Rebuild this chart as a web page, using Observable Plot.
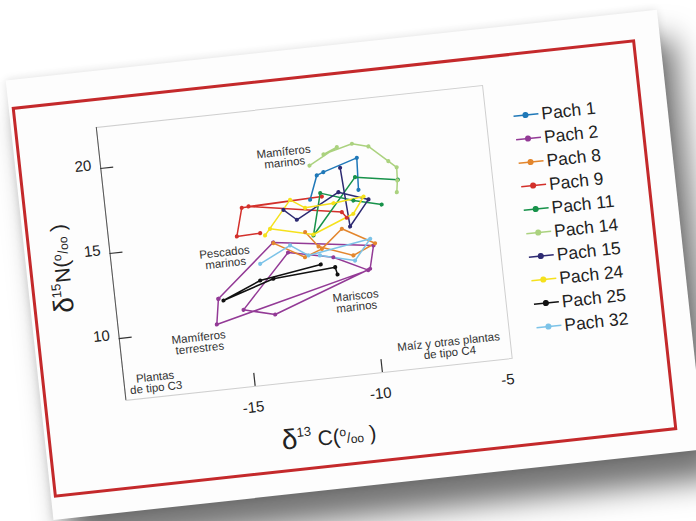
<!DOCTYPE html>
<html>
<head>
<meta charset="utf-8">
<script src="https://cdn.jsdelivr.net/npm/d3@7"></script>
<script src="https://cdn.jsdelivr.net/npm/@observablehq/plot@0.6"></script>
<style>
  html, body { margin: 0; padding: 0; background: #ffffff; width: 696px; height: 521px; overflow: hidden; }
  #stage { position: absolute; left: 31.25px; top: 72px; width: 627px; height: 393px;
           transform: rotate(-6.2deg); transform-origin: 50% 50%; font-family: "Liberation Sans", Arial, sans-serif; }
  #paper { position: absolute; left: -3px; top: -27px; width: 655px; height: 442px; background: #fdfdfd;
           box-shadow: 14px 30px 30px rgba(0,0,0,0.55), 0 0 8px rgba(0,0,0,0.12); }
  #border { position: absolute; left: 0; top: 0; width: 627px; height: 393px; box-sizing: border-box;
            border: 3px solid #c4292b; pointer-events: none; }
  #chart { position: absolute; left: 0; top: 0; }
  #legend { position: absolute; left: 490px; top: 40px; }
</style>
</head>
<body>
<div id="stage">
  <div id="paper"></div>
  <div id="chart"></div>
  <div id="legend"></div>
  <div id="border"></div>
</div>
<script>
// Series: [δ13C, δ15N] per point
const pach1  = [[-12.08,16.86],[-11.72,18.23],[-11.45,18.38],[-10.09,19.00],[-10.16,17.13]];
const pach2  = [[-16.06,11.68],[-13.70,14.61],[-9.81,13.80],[-10.04,12.47],[-13.92,10.41],[-15.13,10.88],[-13.16,13.93],[-11.42,13.37],[-10.12,12.40],[-16.23,10.20],[-16.06,11.68]];
const pach8  = [[-13.69,14.57],[-12.52,13.55],[-11.83,13.93],[-10.97,14.97],[-9.74,13.92],[-10.63,13.35],[-11.95,14.09],[-12.41,15.01]];
const pach9  = [[-14.16,15.23],[-15.08,15.19],[-14.77,16.82],[-11.61,16.97],[-14.50,16.86],[-10.90,15.94],[-10.73,15.58]];
const pach11 = [[-8.59,17.47],[-10.24,17.89],[-12.10,14.76],[-11.66,17.18],[-10.40,16.54],[-9.32,16.13]];
const pach14 = [[-11.96,18.85],[-10.82,19.75],[-11.37,19.41],[-10.22,19.85],[-9.59,19.59],[-8.88,18.61],[-8.58,18.20],[-8.61,17.43],[-8.68,16.75]];
const pach15 = [[-13.16,16.44],[-12.68,15.78],[-10.95,17.12],[-9.81,16.51],[-10.64,15.05],[-10.78,18.53]];
const pach24 = [[-13.98,15.07],[-12.86,16.98],[-12.31,16.42],[-11.19,16.51],[-9.99,16.71],[-10.46,15.77],[-12.10,14.82],[-13.76,15.42]];
const pach25 = [[-11.94,13.03],[-14.36,12.48],[-15.87,11.55],[-13.84,12.50],[-11.39,12.78],[-11.33,12.34]];
const pach32 = [[-14.29,13.45],[-13.05,14.33],[-12.38,13.63],[-9.91,14.21],[-10.59,13.04],[-11.93,13.56]];

const seriesNames  = ["Pach 1","Pach 2","Pach 8","Pach 9","Pach 11","Pach 14","Pach 15","Pach 24","Pach 25","Pach 32"];
const seriesColors = ["#1f78b8","#933a96","#e3862d","#d3302b","#17924a","#abd27f","#2d2a72","#f5e11c","#111111","#7cc3e8"];
const seriesPoints = [pach1,pach2,pach8,pach9,pach11,pach14,pach15,pach24,pach25,pach32];

const yTicks = [10, 15, 20];
const xTickMarks = [-15, -10];
const xTickLabels = [-15, -10, -5];
const xDomain = [-20.08, -4.9];
const yDomain = [6.36, 22.41];

const annoLabels = ["Mamíferos\nmarinos","Pescados\nmarinos","Mariscos\nmarinos","Mamíferos\nterrestres","Plantas\nde tipo C3","Maíz y otras plantas\nde tipo C4"];
const annoX = [-12.91, -15.63, -10.72, -16.99, -18.85, -7.30];
const annoY = [19.48, 14.01, 10.65, 9.23, 7.21, 7.39];

const rows = seriesNames.flatMap((name, k) => seriesPoints[k].map(([x, y], i) => ({name, x, y, i})));
const annotations = annoLabels.map((label, i) => ({label, x: annoX[i], y: annoY[i]}));

const W = 490, H = 393, mL = 81.5, mT = 29, mR = 20, mB = 89.5;
const frameW = W - mL - mR, frameH = H - mT - mB;

const chart = Plot.plot({
  width: W, height: H,
  marginLeft: mL, marginTop: mT, marginRight: mR, marginBottom: mB,
  x: {domain: xDomain, label: null},
  y: {domain: yDomain, label: null},
  color: {domain: seriesNames, range: seriesColors},
  style: {fontFamily: "'Liberation Sans', Arial, sans-serif", background: "transparent", color: "#222", overflow: "visible"},
  marks: [
    Plot.frame({stroke: "#cfcfcf", strokeWidth: 1}),
    Plot.ruleX([xDomain[0]], {stroke: "#555", strokeWidth: 1}),
    Plot.tickY(yTicks, {y: d => d, insetRight: frameW - 13, stroke: "#333", strokeWidth: 1.2}),
    Plot.tickX(xTickMarks, {x: d => d, insetTop: frameH - 13, stroke: "#333", strokeWidth: 1.2}),
    Plot.axisY(yTicks, {tickSize: 0, tickPadding: 9, fontSize: 15, dy: -4, fill: "#222"}),
    Plot.axisX(xTickLabels, {tickSize: 0, tickPadding: 15, fontSize: 15, dx: -4, fill: "#222", tickFormat: d => String(d)}),
    Plot.line(rows, {x: "x", y: "y", z: "name", stroke: "name", strokeWidth: 1.5}),
    Plot.dot(rows, {x: "x", y: "y", fill: "name", r: 2.1}),
    Plot.text(annotations, {x: "x", y: "y", text: "label", fontSize: 11.5, fill: "#333", lineHeight: 0.95, textAnchor: "middle"})
  ]
});
document.getElementById("chart").appendChild(chart);

// Axis titles with super/subscripts
const svg = d3.select(chart);
function axisTitle(g, sup) {
  g.append("tspan").attr("font-size", 28).text("δ");
  g.append("tspan").attr("font-size", 13).attr("baseline-shift", "85%").text(sup);
}
const xt = svg.append("text").attr("x", 280).attr("y", 370).attr("text-anchor", "middle").attr("fill", "#222")
  .attr("font-family", "'Liberation Sans', Arial, sans-serif").attr("font-size", 21);
axisTitle(xt, "13");
xt.append("tspan").attr("font-size", 21).text(" C(");
xt.append("tspan").attr("font-size", 12).attr("baseline-shift", "55%").text("o");
xt.append("tspan").attr("font-size", 14).text("/");
xt.append("tspan").attr("font-size", 12).attr("baseline-shift", "-10%").text("oo");
xt.append("tspan").attr("font-size", 21).text(" )");

const yt = svg.append("text").attr("transform", "translate(40,166) rotate(-90)").attr("text-anchor", "middle").attr("fill", "#222")
  .attr("font-family", "'Liberation Sans', Arial, sans-serif").attr("font-size", 21);
axisTitle(yt, "15");
yt.append("tspan").attr("font-size", 21).text("N(");
yt.append("tspan").attr("font-size", 12).attr("baseline-shift", "55%").text("o");
yt.append("tspan").attr("font-size", 14).text("/");
yt.append("tspan").attr("font-size", 12).attr("baseline-shift", "-10%").text("oo");
yt.append("tspan").attr("font-size", 21).text(" )");

// Legend
const lg = d3.select("#legend").append("svg").attr("width", 140).attr("height", 270)
  .style("font-family", "'Liberation Sans', Arial, sans-serif").style("overflow", "visible");
seriesNames.forEach((name, i) => {
  const cy = 23.5 + i * 23.64;
  const g = lg.append("g");
  g.append("line").attr("x1", 8).attr("x2", 33).attr("y1", cy).attr("y2", cy)
    .attr("stroke", seriesColors[i]).attr("stroke-width", 1.5);
  g.append("circle").attr("cx", 20).attr("cy", cy).attr("r", 3).attr("fill", seriesColors[i]);
  g.append("text").attr("x", 36).attr("y", cy + 6.3).attr("font-size", 17.5).attr("fill", "#222").text(name);
});
</script>
</body>
</html>
